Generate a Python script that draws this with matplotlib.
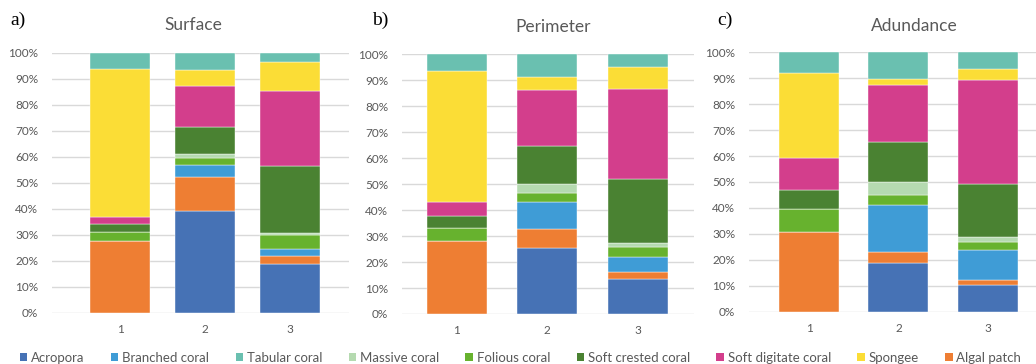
import numpy as np
import matplotlib
matplotlib.use("Agg")
import matplotlib.pyplot as plt
from matplotlib.patches import Patch
from matplotlib.ticker import PercentFormatter

plt.rcParams['font.family'] = ['Lato', 'DejaVu Sans']

sites = ["1", "2", "3"]

# stacking order (bottom -> top)
stack_names = ["Acropora", "Algal patch", "Branched coral", "Folious coral", "Massive coral",
               "Soft crested coral", "Soft digitate coral", "Spongee", "Tabular coral"]

# legend order
legend_names = ["Acropora", "Branched coral", "Tabular coral", "Massive coral", "Folious coral",
                "Soft crested coral", "Soft digitate coral", "Spongee", "Algal patch"]

colors = {
    "Acropora": "#4672B5",
    "Branched coral": "#3F9CD6",
    "Tabular coral": "#6AC0B0",
    "Massive coral": "#B5DAB0",
    "Folious coral": "#67B22E",
    "Soft crested coral": "#4A8232",
    "Soft digitate coral": "#D33E8C",
    "Spongee": "#FBDD36",
    "Algal patch": "#EE7E33",
}

# percent per site, rows follow stack_names
surface = [
    [0.0, 39.1, 18.8],
    [27.6, 13.0, 2.9],
    [0.0, 4.8, 2.9],
    [3.6, 2.6, 5.1],
    [0.0, 1.7, 0.8],
    [2.9, 10.2, 26.0],
    [2.6, 15.9, 28.9],
    [56.9, 5.9, 11.0],
    [6.4, 6.8, 3.6],
]

perimeter = [
    [0.0, 25.3, 13.4],
    [28.2, 7.4, 2.8],
    [0.0, 10.6, 5.8],
    [4.9, 3.3, 3.9],
    [0.0, 3.5, 1.3],
    [4.6, 14.7, 24.7],
    [5.4, 21.6, 34.6],
    [50.5, 5.0, 8.7],
    [6.4, 8.6, 4.8],
]

abundance = [
    [0.0, 18.9, 10.2],
    [30.6, 4.1, 2.0],
    [0.0, 18.0, 11.6],
    [8.9, 4.1, 2.9],
    [0.0, 5.0, 2.1],
    [7.3, 15.5, 20.6],
    [12.5, 21.7, 39.9],
    [32.9, 2.3, 4.3],
    [7.8, 10.4, 6.4],
]

titles = ["Surface", "Perimeter", "Adundance"]
letters = ["a)", "b)", "c)"]

W, H = 1036, 364
fig = plt.figure(figsize=(W / 100, H / 100), dpi=100)

# pixel boxes of the plot areas: left, right, top(100%), bottom(0%)
boxes = [(52, 349, 52.7, 312.7), (402, 694, 54.3, 314.0), (749, 1036, 52.3, 311.7)]
xlims = [(0.20, 3.69), (0.396, 3.62), (0.328, 3.54)]
widths = [0.70, 0.663, 0.67]
title_pos = [(193, 25), (553, 27), (914, 26)]
letter_pos = [(10, 20), (372, 20), (717, 20)]

for k, data in enumerate([surface, perimeter, abundance]):
    l, r, t, b = boxes[k]
    ax = fig.add_axes([l / W, 1 - b / H, (r - l) / W, (b - t) / H])
    vals = np.array(data, dtype=float)
    vals = vals / vals.sum(axis=0) * 100
    x = np.arange(1, len(sites) + 1)
    bottom = np.zeros(len(sites))
    for i, name in enumerate(stack_names):
        ax.bar(x, vals[i], widths[k], bottom=bottom, color=colors[name],
               edgecolor="white", linewidth=0.3, zorder=2)
        bottom += vals[i]
    ax.set_xlim(*xlims[k])
    ax.set_ylim(0, 100)
    ax.set_yticks(np.arange(0, 101, 10))
    ax.yaxis.set_major_formatter(PercentFormatter(decimals=0))
    ax.set_xticks(x)
    ax.set_xticklabels(sites)
    ax.grid(axis="y", color="#D9D9D9", linewidth=1.0, zorder=0)
    ax.set_axisbelow(True)
    for s in ax.spines.values():
        s.set_visible(False)
    ax.tick_params(length=0, labelsize=8.5, colors="#595959")
    ax.tick_params(axis="y", pad=10)
    ax.tick_params(axis="x", pad=8)

    tx, ty = title_pos[k]
    fig.text(tx / W, 1 - ty / H, titles[k], ha="center", va="center",
             fontsize=12.5, color="#595959")
    lx, ly = letter_pos[k]
    fig.text(lx / W, 1 - ly / H, letters[k], ha="left", va="center",
             fontsize=14, family="Liberation Serif", color="black")

handles = [Patch(facecolor=colors[n], edgecolor="none") for n in legend_names]
fig.legend(handles, legend_names, loc="center", bbox_to_anchor=(0.5025, 1 - 357.7 / H),
           ncol=9, frameon=False, fontsize=9.5, handlelength=0.55, handleheight=0.55,
           handletextpad=0.3, columnspacing=2.0, labelcolor="#595959",
           borderpad=0, borderaxespad=0)

fig.savefig("out.png", dpi=100)
